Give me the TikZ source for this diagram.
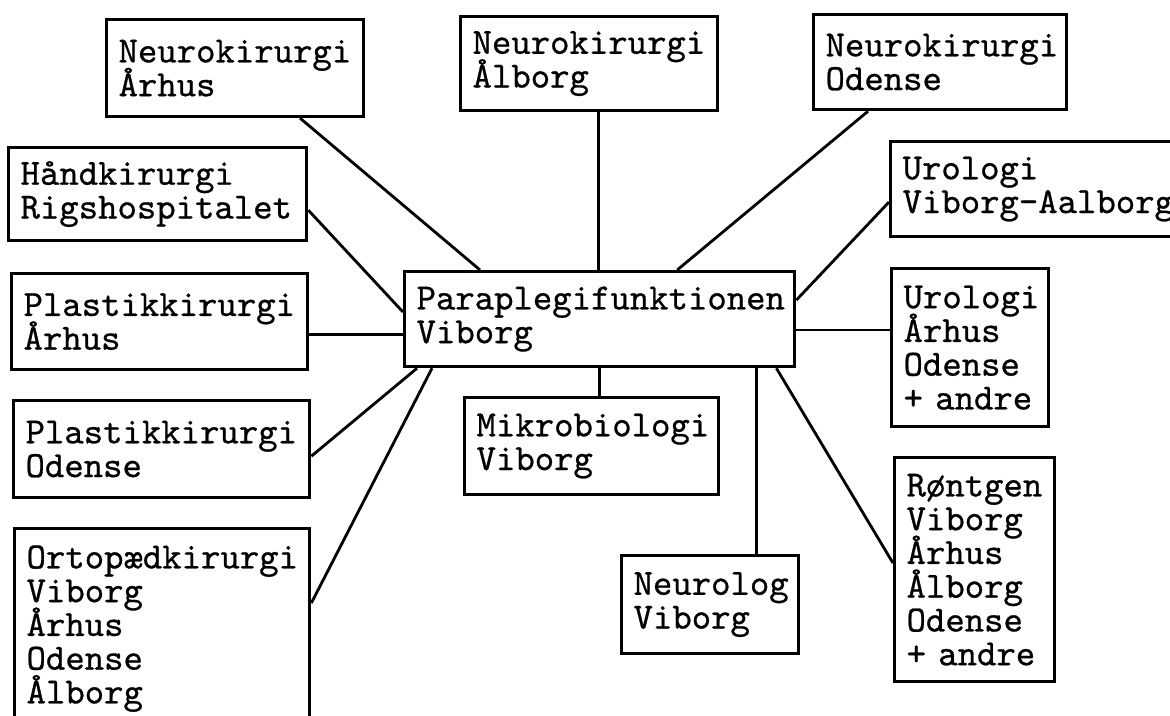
\documentclass[tikz,border=0pt]{standalone}
\usepackage{fontspec}
\newfontfamily\typewriter{Latin Modern Mono}[FakeBold=0.7]
\hyphenpenalty=10000
\exhyphenpenalty=10000
\newcommand{\unitfont}{\typewriter\fontsize{10.5pt}{9.6pt}\selectfont
  \lineskiplimit=-20pt\relax\lineskip=0pt\relax}
\tikzset{
  unit/.style={draw, line width=0.9pt, anchor=north west, align=left,
    inner xsep=0.12cm, inner ysep=0pt, font=\unitfont},
  link/.style={line width=0.8pt}
}

\begin{document}
\begin{tikzpicture}[x=0.01cm,y=-0.01cm]
\useasboundingbox (0,0) rectangle (1170,715);
\clip (0,0) rectangle (1170,715);
\node[unit, text width=2.33cm, minimum height=0.97cm] (nkaa) at (105,18) {Neurokirurgi\\Århus};
\node[unit, text width=2.33cm, minimum height=0.94cm] (nkal) at (459,15) {Neurokirurgi\\Ålborg};
\node[unit, text width=2.29cm, minimum height=0.95cm] (nkod) at (812,13) {Neurokirurgi\\Odense};
\node[unit, text width=2.74cm, minimum height=0.93cm] (hand) at (7,146) {Håndkirurgi\\Rigshospitalet};
\node[unit, text width=2.97cm, minimum height=0.95cm] (urva) at (889,140) {Urologi\\Viborg-Aalborg};
\node[unit, text width=3.66cm, minimum height=0.95cm] (para) at (403,270) {Paraplegifunktionen\\Viborg};
\node[unit, text width=2.72cm, minimum height=0.96cm] (plaa) at (10,272) {Plastikkirurgi\\Århus};
\node[unit, text width=1.33cm, minimum height=1.58cm] (urol) at (890,267) {Urologi\\Århus\\Odense\\+ andre};
\node[unit, text width=2.72cm, minimum height=0.97cm] (plod) at (12,399) {Plastikkirurgi\\Odense};
\node[unit, text width=2.30cm, minimum height=0.97cm] (mikro) at (463,396) {Mikrobiologi\\Viborg};
\node[unit, text width=2.71cm, minimum height=2.0cm] (ortho) at (13,527) {Ortopædkirurgi\\Viborg\\Århus\\Odense\\Ålborg};
\node[unit, text width=1.53cm, minimum height=0.98cm] (neuro) at (620,554) {Neurolog\\Viborg};
\node[unit, text width=1.36cm, minimum height=2.24cm] (rontg) at (893,456) {Røntgen\\Viborg\\Århus\\Ålborg\\Odense\\+ andre};
% links to the top
\draw[link] ([xshift=1.95cm]nkaa.south west) -- ([xshift=0.77cm]para.north west);
\draw[link] ([xshift=1.95cm]para.north west) -- ([xshift=1.95cm]para.north west |- nkal.south);
\draw[link] ([xshift=0.56cm]nkod.south west) -- ([xshift=2.74cm]para.north west);
% links to the left
\draw[link] ([yshift=0.32cm]hand.south east) -- ([yshift=-0.42cm]para.north west);
\draw[link] ([yshift=-0.13cm]plaa.east) -- ([yshift=-0.13cm]plaa.east -| para.west);
\draw[link] ([yshift=0.43cm]plod.south east) -- ([xshift=0.14cm]para.south west);
\draw[link] ([yshift=-0.76cm]ortho.north east) -- ([xshift=0.29cm]para.south west);
% links below
\draw[link] ([xshift=1.96cm]para.south west) -- ([xshift=1.96cm]para.south west |- mikro.north);
\draw[link] ([xshift=3.53cm]para.south west) -- ([xshift=3.53cm]para.south west |- neuro.north);
\draw[link] ([xshift=-0.20cm]para.south east) -- ([yshift=-1.07cm]rontg.north west);
% links to the right
\draw[link] ([yshift=-0.60cm]para.north east) -- ([yshift=-0.60cm]para.north east -| urol.west);
\draw[link] ([yshift=-0.30cm]para.north east) -- ([yshift=-0.62cm]urva.north west);
\end{tikzpicture}
\end{document}
